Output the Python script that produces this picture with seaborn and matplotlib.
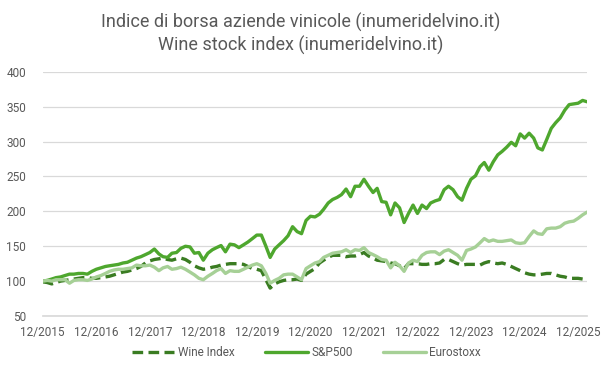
import matplotlib
matplotlib.use("Agg")
import matplotlib.pyplot as plt
import matplotlib.dates as mdates
from matplotlib import font_manager
import numpy as np
import pandas as pd
import seaborn as sns

# monthly values, 12/2015 -> 02/2026
wine = [99, 98, 96, 98, 100, 101, 102, 103, 104, 105, 105, 104,
        104, 105, 106, 107, 109, 111, 113, 114, 116, 118, 121, 126,
        129, 131, 132, 133, 131, 130, 132, 133, 131, 127, 122, 119,
        117, 118, 120, 121, 123, 124, 125, 125, 125, 124, 121, 118,
        117, 115, 102, 90, 96, 99, 101, 102, 102, 103, 101, 110,
        114, 118, 126, 130, 134, 137, 137, 137, 135, 136, 136, 138,
        141, 136, 133, 130, 129, 128, 126, 125, 122, 118, 125, 125,
        125, 124, 124, 125, 125, 126, 131, 131, 128, 125, 123, 124,
        124, 124, 123, 126, 128, 126, 125, 126, 124, 121, 118, 115,
        112, 110, 109, 109, 110, 111, 111, 109, 107, 106, 104, 104,
        104, 103, 102]
sp500 = [100, 101, 103, 105, 106, 108, 110, 110, 111, 111, 110, 114,
         117, 119, 121, 122, 123, 124, 126, 127, 130, 133, 135, 138,
         141, 146, 139, 135, 134, 140, 141, 147, 150, 149, 140, 141,
         130, 140, 145, 148, 151, 142, 153, 152, 148, 152, 156, 161,
         166, 166, 150, 134, 146, 152, 158, 165, 178, 171, 168, 187,
         193, 192, 196, 203, 212, 217, 220, 224, 232, 221, 236, 236,
         246, 236, 227, 233, 214, 213, 195, 212, 205, 184, 197, 209,
         197, 209, 204, 212, 215, 217, 231, 236, 231, 221, 216, 233,
         246, 251, 264, 270, 259, 271, 281, 286, 292, 299, 294, 311,
         305, 312, 305, 291, 288, 303, 319, 327, 334, 345, 353, 354,
         355, 359, 357]
eurostoxx = [100, 101, 100, 102, 102, 102, 97, 101, 102, 102, 101, 103,
             106, 108, 111, 114, 116, 117, 117, 118, 119, 123, 122, 122,
             123, 120, 115, 119, 121, 117, 118, 120, 117, 113, 109, 104,
             102, 107, 111, 115, 118, 111, 115, 114, 114, 117, 120, 123,
             125, 122, 111, 97, 101, 104, 109, 110, 110, 106, 102, 118,
             122, 126, 128, 134, 137, 140, 141, 142, 145, 141, 145, 144,
             148, 141, 138, 135, 131, 130, 119, 127, 122, 114, 126, 130,
             128, 137, 141, 142, 142, 138, 143, 145, 141, 137, 130, 144,
             146, 149, 155, 161, 157, 159, 157, 157, 158, 159, 155, 154,
             155, 164, 172, 168, 167, 175, 176, 176, 178, 183, 185, 186,
             190, 195, 199]

dates = pd.date_range("2015-12-01", periods=len(wine), freq="MS")
tick_dates = pd.date_range("2015-12-01", "2025-12-01", freq="12MS")
y_ticks = [50, 100, 150, 200, 250, 300, 350, 400]

sns.set_theme(style="white")
available = {f.name for f in font_manager.fontManager.ttflist}
fam = "Liberation Sans Narrow" if "Liberation Sans Narrow" in available else "Roboto"
plt.rcParams["font.family"] = [fam, "DejaVu Sans"]

grey = "#595959"
fig = plt.figure(figsize=(6.01, 3.78), dpi=100)
ax = fig.add_axes([0.071, 0.164, 0.906, 0.646])

sns.lineplot(x=dates, y=wine, ax=ax, color="#3A7C22", lw=2.4,
             label="Wine Index", dashes=False)
ax.lines[-1].set_dashes([3.2, 1.6])
sns.lineplot(x=dates, y=sp500, ax=ax, color="#4EA72E", lw=2.4, label="S&P500")
sns.lineplot(x=dates, y=eurostoxx, ax=ax, color="#A6D096", lw=2.4, label="Eurostoxx")

ax.set_ylim(50, 400)
ax.set_yticks(y_ticks)
ax.set_xlim(dates[0], dates[-1])
ax.set_xticks(tick_dates)
ax.xaxis.set_major_formatter(mdates.DateFormatter("%m/%Y"))
ax.grid(axis="y", color="#D9D9D9", lw=0.9)
ax.set_axisbelow(True)
for s in ["top", "right", "left"]:
    ax.spines[s].set_visible(False)
ax.spines["bottom"].set_color("#D9D9D9")
ax.tick_params(axis="x", colors=grey, labelsize=8.5, length=4, color="#D9D9D9", pad=3)
ax.tick_params(axis="y", colors=grey, labelsize=8.5, length=0, pad=12)
ax.set_xlabel("")
ax.set_ylabel("")

fig.text(0.5, 0.942, "Indice di borsa aziende vinicole (inumeridelvino.it)",
         ha="center", va="center", fontsize=13, color=grey)
fig.text(0.5, 0.881, "Wine stock index (inumeridelvino.it)",
         ha="center", va="center", fontsize=13, color=grey)

leg = ax.legend(loc="center", ncol=3, frameon=False, fontsize=8.5, handlelength=3.6,
                columnspacing=2.6, handletextpad=0.3)
leg.set_bbox_to_anchor((0.51, 0.068), transform=fig.transFigure)
for t in leg.get_texts():
    t.set_color(grey)

fig.savefig("out.png", dpi=100)
